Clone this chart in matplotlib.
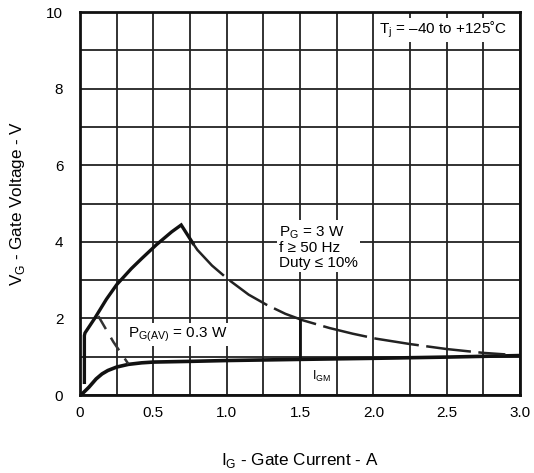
import matplotlib.pyplot as plt

plt.rcParams['font.family'] = ['Liberation Sans', 'DejaVu Sans']
plt.rcParams['mathtext.fontset'] = 'custom'
plt.rcParams['mathtext.rm'] = 'Liberation Sans'

# gate characteristic (lower curve)
char_i = [0.0, 0.02, 0.06, 0.11, 0.15, 0.19, 0.25, 0.33, 0.42, 0.5, 0.77, 1.0, 1.5, 2.04, 2.5, 3.0]
char_v = [0.0, 0.05, 0.2, 0.42, 0.55, 0.64, 0.73, 0.8, 0.84, 0.86, 0.88, 0.9, 0.93, 0.96, 0.99, 1.03]

# upper boundary (solid)
bound_i = [0.03, 0.03, 0.034, 0.1, 0.18, 0.25, 0.35, 0.42, 0.52, 0.625, 0.69, 0.77]
bound_v = [0.33, 1.55, 1.62, 2.0, 2.5, 2.88, 3.3, 3.56, 3.92, 4.26, 4.44, 3.96]

# P_G = 3 W peak power curve (dashed)
pg_i = [0.77, 0.8, 0.9, 1.01, 1.15, 1.27, 1.4, 1.52, 1.7, 1.86, 2.02, 2.25, 2.5, 2.75, 2.9]
pg_v = [3.96, 3.79, 3.38, 3.02, 2.62, 2.36, 2.12, 1.95, 1.75, 1.6, 1.47, 1.33, 1.2, 1.1, 1.06]

# P_G(AV) = 0.3 W average power curve (dashed)
pav_i = [0.125, 0.227, 0.33]
pav_v = [2.06, 1.39, 0.81]

# I_GM limit
igm_i = [1.5, 1.5]
igm_v = [0.93, 1.96]

fig = plt.figure(figsize=(5.34, 4.73), dpi=100)
ax = fig.add_axes([0.1498, 0.1649, 0.824, 0.8097])

ax.plot(char_i, char_v, color='#111111', lw=2.6, solid_capstyle='round')
ax.plot(bound_i, bound_v, color='#111111', lw=2.4, solid_joinstyle='miter')
ax.plot(pg_i, pg_v, color='#222222', lw=1.8, dashes=(18, 3))
ax.plot(pav_i, pav_v, color='#333333', lw=1.8, dashes=(6, 4))
ax.plot(igm_i, igm_v, color='#111111', lw=2.0)

ax.set_xlim(0, 3.0)
ax.set_ylim(0, 10)
ax.set_xticks([0, 0.5, 1.0, 1.5, 2.0, 2.5, 3.0])
ax.set_xticklabels(['0', '0.5', '1.0', '1.5', '2.0', '2.5', '3.0'])
ax.set_yticks([0, 2, 4, 6, 8, 10])
ax.set_xticks([i * 0.25 for i in range(13)], minor=True)
ax.set_yticks(range(11), minor=True)
ax.grid(True, which='both', color='#222222', lw=1.3)
ax.tick_params(which='both', length=0, labelsize=11)
ax.tick_params(axis='x', pad=8)
ax.tick_params(axis='y', pad=12)
for s in ax.spines.values():
    s.set_linewidth(2.0)
    s.set_color('#111111')

box = dict(facecolor='white', edgecolor='none', pad=1.5)
ax.text(2.04, 9.53, r'T$_\mathrm{j}$ = –40 to +125˚C', fontsize=11, va='center', bbox=box)
ax.text(1.36, 4.47, r'P$_\mathrm{G}$ = 3 W' + '\nf ≥ 50 Hz\nDuty ≤ 10%', fontsize=11,
        va='top', linespacing=1.05, bbox=box)
ax.text(0.33, 1.57, r'P$_\mathrm{G(AV)}$ = 0.3 W', fontsize=11, va='center', bbox=box)
ax.text(1.58, 0.48, r'I$_\mathrm{GM}$', fontsize=9, va='center')

ax.set_xlabel(r'I$_\mathrm{G}$ - Gate Current - A', fontsize=12.3, labelpad=22)
ax.set_ylabel(r'V$_\mathrm{G}$ - Gate Voltage - V', fontsize=12.3, labelpad=14)

fig.savefig('out.png', dpi=100)
